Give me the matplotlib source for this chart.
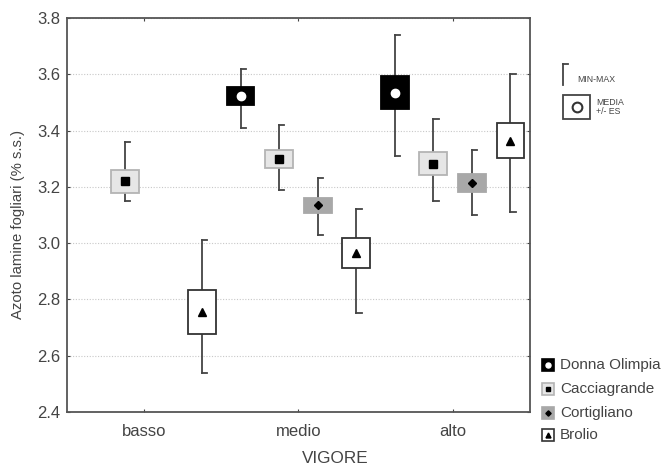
import numpy as np
import matplotlib.pyplot as plt
from matplotlib.patches import Rectangle

plt.rcParams['font.family'] = ['Liberation Sans', 'DejaVu Sans']

nan = np.nan
gruppi = ['basso', 'medio', 'alto']
cultivar = ['Donna Olimpia', 'Cacciagrande', 'Cortigliano', 'Brolio']

# rows = cultivar, cols = vigour class (basso, medio, alto)
media = [[nan, 3.525, 3.535],
         [3.22, 3.30, 3.283],
         [nan, 3.135, 3.214],
         [2.755, 2.965, 3.365]]
es = [[nan, 0.032, 0.058],
      [0.040, 0.032, 0.041],
      [nan, 0.027, 0.032],
      [0.077, 0.052, 0.063]]
minimo = [[nan, 3.41, 3.31],
          [3.15, 3.19, 3.15],
          [nan, 3.03, 3.10],
          [2.54, 2.75, 3.11]]
massimo = [[nan, 3.62, 3.74],
           [3.36, 3.42, 3.44],
           [nan, 3.23, 3.33],
           [3.01, 3.12, 3.60]]

# box face, box edge, marker, marker face, marker size
stili = [('black', 'black', 'o', 'white', 6),
         ('#e6e6e6', '#b4b4b4', 's', 'black', 6),
         ('#a8a8a8', '#a8a8a8', 'D', 'black', 4.5),
         ('white', '#333333', '^', 'black', 6)]
offset = [-0.375, -0.125, 0.125, 0.375]

fig = plt.figure(figsize=(6.63, 4.67), dpi=100)
ax = fig.add_axes([0.101, 0.118, 0.698, 0.843])

wc = '#444444'
bw = 0.18
cap = 0.035
for i, nome in enumerate(cultivar):
    fc, ec, mk, mfc, ms = stili[i]
    for j in range(len(gruppi)):
        m = media[i][j]
        if np.isnan(m):
            continue
        x = j + offset[i]
        lo, hi = minimo[i][j], massimo[i][j]
        ax.plot([x, x], [lo, hi], color=wc, lw=1.3, zorder=2)
        ax.plot([x, x + cap], [hi, hi], color=wc, lw=1.3, zorder=2)
        ax.plot([x, x + cap], [lo, lo], color=wc, lw=1.3, zorder=2)
        ax.add_patch(Rectangle((x - bw / 2, m - es[i][j]), bw, 2 * es[i][j],
                               facecolor=fc, edgecolor=ec, lw=1.3, zorder=3))
        ax.plot(x, m, marker=mk, color=mfc, markeredgecolor=mfc if mfc == 'black' else 'white',
                markersize=ms, zorder=4)

ax.set_xlim(-0.5, 2.5)
ax.set_ylim(2.4, 3.8)
ax.set_xticks(range(len(gruppi)))
ax.set_xticklabels(gruppi)
ax.set_yticks(np.arange(2.4, 3.81, 0.2))
ax.set_yticklabels(['%.1f' % v for v in np.arange(2.4, 3.81, 0.2)])
ax.tick_params(direction='in', length=2, colors='#444444', labelcolor='#444444',
               labelsize=12, top=True, right=True)
ax.tick_params(axis='x', pad=9)
ax.tick_params(axis='y', pad=5)
ax.yaxis.grid(True, linestyle=(0, (1, 1.5)), color='#c8c8c8', lw=0.8)
for s in ax.spines.values():
    s.set_color('#555555')
    s.set_linewidth(1.3)

ax.set_ylabel('Azoto lamine fogliari (% s.s.)', fontsize=10.7, color='#444444')
ax.yaxis.set_label_coords(-0.09, 0.475)
ax.set_xlabel('VIGORE', fontsize=12.3, color='#444444')
ax.xaxis.set_label_coords(0.579, -0.1)

# legend MIN-MAX / MEDIA +/- ES
def fx(px):
    return px / 663.0

def fy(py):
    return 1 - py / 467.0

fig.add_artist(plt.Line2D([fx(563), fx(563)], [fy(64), fy(85)], color=wc, lw=1.3))
fig.add_artist(plt.Line2D([fx(563), fx(568)], [fy(64), fy(64)], color=wc, lw=1.3))
fig.text(fx(577), fy(79), 'MIN-MAX', fontsize=6.3, color='#444444', va='center')
fig.add_artist(Rectangle((fx(563), fy(119)), fx(27), 24 / 467.0, facecolor='white',
                         edgecolor=wc, lw=1.3, transform=fig.transFigure))
fig.add_artist(plt.Line2D([fx(576.5)], [fy(107)], marker='o', markersize=7,
                          markerfacecolor='white', markeredgecolor='#333333', markeredgewidth=1.5))
fig.text(fx(596), fy(107), 'MEDIA\n+/- ES', fontsize=6.3, color='#444444', va='center',
         linespacing=1.1)

# cultivar legend
ly = [365, 389, 413, 435]
for i, nome in enumerate(cultivar):
    fc, ec, mk, mfc, ms = stili[i]
    fig.add_artist(plt.Line2D([fx(548)], [fy(ly[i])], marker='s', markersize=8,
                              markerfacecolor=fc, markeredgecolor=ec, markeredgewidth=1.2))
    fig.add_artist(plt.Line2D([fx(548)], [fy(ly[i])], marker=mk, markersize=ms * 0.6,
                              markerfacecolor=mfc, markeredgecolor=mfc))
    fig.text(fx(560), fy(ly[i]), nome, fontsize=11, color='#444444', va='center')

fig.savefig('out.png', dpi=100)
